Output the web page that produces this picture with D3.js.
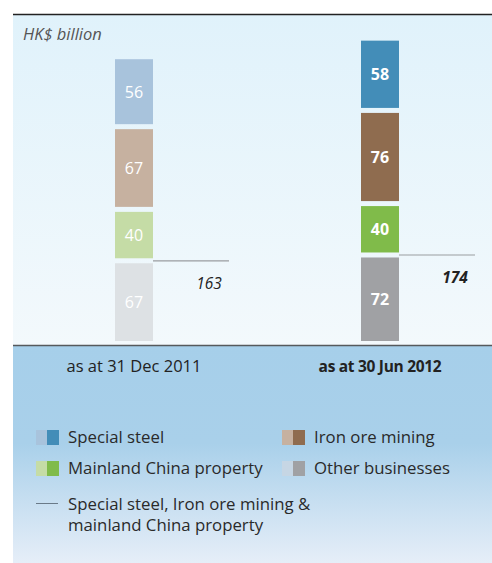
<!DOCTYPE html>
<html><head><meta charset="utf-8">
<script src="https://cdn.jsdelivr.net/npm/d3@7"></script>
<style>
html,body{margin:0;padding:0;background:#fff;}
svg{display:block;font-family:"Open Sans","Noto Sans",sans-serif;}
</style></head>
<body>
<svg id="c" width="492" height="563"></svg>
<script>
// ---- data ----
const periods = ["as at 31 Dec 2011", "as at 30 Jun 2012"];
const segments = ["Other businesses", "Mainland China property", "Iron ore mining", "Special steel"];
const values2011 = [67, 40, 67, 56];
const values2012 = [72, 40, 76, 58];
const coreTotals = [163, 174];
const unitLabel = "HK$ billion";
const legendItems = ["Special steel", "Iron ore mining", "Mainland China property", "Other businesses"];
const lineLegend = ["Special steel, Iron ore mining &", "mainland China property"];

const lightColors = {"Special steel":"#a8c3dc","Iron ore mining":"#c6b1a0","Mainland China property":"#c5dca6","Other businesses":"#dde1e4"};
const darkColors  = {"Special steel":"#438db8","Iron ore mining":"#8f6c4f","Mainland China property":"#80bb4a","Other businesses":"#a0a1a4"};
const legendLight = {"Special steel":"#a8c3dc","Iron ore mining":"#c6b1a0","Mainland China property":"#c5dca6","Other businesses":"#c6d6e4"};

const svg = d3.select("#c");
const defs = svg.append("defs");
const g1 = defs.append("linearGradient").attr("id","gTop").attr("x1",0).attr("y1",0).attr("x2",0).attr("y2",1);
g1.append("stop").attr("offset","0%").attr("stop-color","#e0f2fb");
g1.append("stop").attr("offset","100%").attr("stop-color","#f3f9fc");
const g2 = defs.append("linearGradient").attr("id","gBot").attr("x1",0).attr("y1",0).attr("x2",0).attr("y2",1);
g2.append("stop").attr("offset","0%").attr("stop-color","#a6cfea");
g2.append("stop").attr("offset","45%").attr("stop-color","#a9d0ea");
g2.append("stop").attr("offset","100%").attr("stop-color","#e6eef8");

// panels
svg.append("rect").attr("x",13).attr("y",14).attr("width",479).attr("height",331).attr("fill","url(#gTop)");
svg.append("rect").attr("x",13).attr("y",345).attr("width",479).attr("height",218).attr("fill","url(#gBot)");
svg.append("line").attr("x1",13).attr("x2",492).attr("y1",14.5).attr("y2",14.5).attr("stroke","#222").attr("stroke-width",1.5);
svg.append("line").attr("x1",13).attr("x2",492).attr("y1",345.5).attr("y2",345.5).attr("stroke","#55595c").attr("stroke-width",1.5);

svg.append("text").attr("x",23).attr("y",40).attr("font-style","italic").attr("font-size",16.5)
  .attr("fill","#555").text(unitLabel);

// scales
const x = d3.scalePoint().domain(periods).range([134, 380]);
const y = d3.scaleLinear().domain([0, 250]).range([341, 341 - 250*1.16]);
const gap = 5, barW = 38;

const series = [values2011, values2012];
series.forEach((vals, i) => {
  const p = periods[i];
  const cx = x(p);
  const colors = i === 0 ? lightColors : darkColors;
  let cum = 0;
  const grp = svg.append("g");
  vals.forEach((v, k) => {
    const y0 = y(cum) - k*gap, y1 = y(cum + v) - k*gap;
    grp.append("rect").attr("x", cx - barW/2).attr("width", barW)
      .attr("y", y1).attr("height", y0 - y1).attr("fill", colors[segments[k]]);
    grp.append("text").attr("x", cx).attr("y", (y0+y1)/2 + 6).attr("text-anchor","middle")
      .attr("font-size",16).attr("font-weight", i===1 ? "bold" : "normal")
      .attr("fill","#fff").text(v);
    cum += v;
  });
  // core total line at boundary between Other and the rest
  const ly = y(vals[0]) - gap/2;
  grp.append("line").attr("x1", cx + barW/2).attr("x2", cx + barW/2 + 76)
    .attr("y1", ly).attr("y2", ly).attr("stroke","#9a9da0").attr("stroke-width",1.2);
  grp.append("text").attr("x", cx + barW/2 + 56).attr("y", ly + 28).attr("text-anchor","middle")
    .attr("font-style","italic").attr("font-weight", i===1 ? "bold" : "normal")
    .attr("font-size",15.5).attr("fill","#222").text(coreTotals[i]);
  // category label
  svg.append("text").attr("x", cx).attr("y", 372).attr("text-anchor","middle")
    .attr("font-size", i===1 ? 15.5 : 16.5).attr("font-weight", i===1 ? "bold" : "normal")
    .attr("letter-spacing", i===1 ? -0.3 : 0)
    .attr("fill","#222").text(p);
});

// legend
const lx = [36, 282], ly0 = [430, 461];
legendItems.forEach((name, k) => {
  const col = k % 2, row = Math.floor(k / 2);
  const gx = lx[col], gy = ly0[row];
  svg.append("rect").attr("x", gx).attr("y", gy).attr("width", 11).attr("height", 15).attr("fill", legendLight[name]);
  svg.append("rect").attr("x", gx+11).attr("y", gy).attr("width", 12).attr("height", 15).attr("fill", darkColors[name]);
  svg.append("text").attr("x", gx + 32).attr("y", gy + 13).attr("font-size",16.8).attr("fill","#2a2a2a").text(name);
});
svg.append("line").attr("x1",36).attr("x2",58).attr("y1",503.5).attr("y2",503.5).attr("stroke","#6a7a88").attr("stroke-width",1);
lineLegend.forEach((t, k) => {
  svg.append("text").attr("x", 68).attr("y", 510 + k*21).attr("font-size",16.8).attr("fill","#2a2a2a").text(t);
});
</script>
</body></html>
